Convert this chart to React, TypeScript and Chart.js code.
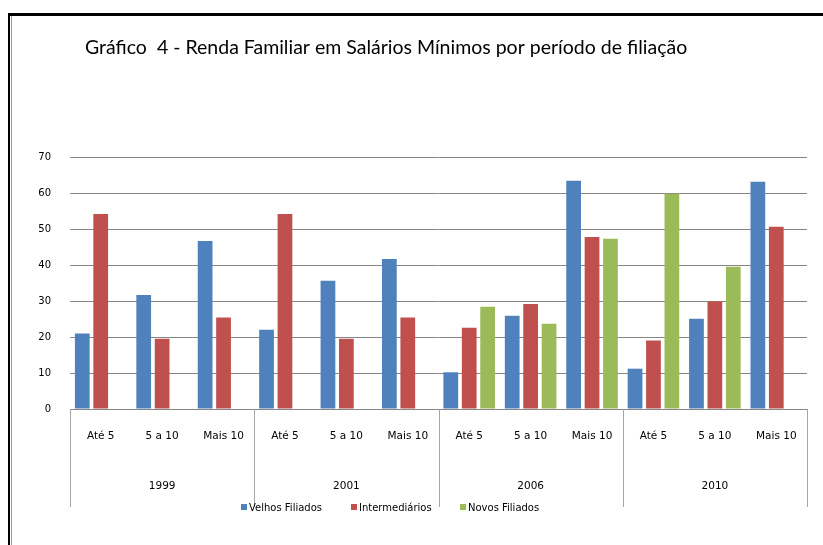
import React, { useEffect, useRef } from "react";
import { Chart, registerables } from "chart.js";

Chart.register(...registerables);

const TITLE = "Gráfico  4 - Renda Familiar em Salários Mínimos por período de filiação";
const YEARS = ["1999", "2001", "2006", "2010"];
const SUB_LABELS = ["Até 5", "5 a 10", "Mais 10"];
const SERIES_NAMES = ["Velhos Filiados", "Intermediários", "Novos Filiados"];
const SERIES_COLORS = ["#4F81BD", "#C0504D", "#9BBB59"];
const VELHOS = [21, 31.7, 46.7, 22, 35.6, 41.7, 10.2, 25.9, 63.4, 11.2, 25.1, 63.1];
const INTERMEDIARIOS = [54.2, 19.5, 25.4, 54.2, 19.5, 25.4, 22.6, 29.2, 47.8, 19.0, 29.9, 50.6];
const NOVOS = [null, null, null, null, null, null, 28.4, 23.7, 47.3, 59.8, 39.5, null];
const Y_MIN = 0;
const Y_MAX = 70;
const Y_STEP = 10;

const W = 823;
const H = 545;

const extrasPlugin = {
  id: "extras",
  afterDraw(chart: any) {
    const ctx = chart.ctx;
    const xs = chart.scales.x;
    const area = chart.chartArea;
    const n = xs.getLabels().length;
    const cw = (xs.right - xs.left) / n;
    const per = SUB_LABELS.length;
    ctx.save();
    // title
    ctx.fillStyle = "#000";
    ctx.font = "19.5px Lato";
    ctx.textAlign = "left";
    ctx.textBaseline = "alphabetic";
    ctx.fillText(TITLE, 85, 54);

    // group separators
    ctx.strokeStyle = "#a6a6a6";
    ctx.lineWidth = 1;
    const bottom = area.bottom + 98;
    for (let g = 0; g <= YEARS.length; g++) {
      const x = Math.round(xs.left + g * per * cw) + 0.5;
      ctx.beginPath();
      ctx.moveTo(x, area.bottom);
      ctx.lineTo(x, bottom);
      ctx.stroke();
    }
    // group labels
    ctx.fillStyle = "#000";
    ctx.font = "10.5px 'DejaVu Sans'";
    ctx.textAlign = "center";
    ctx.textBaseline = "middle";
    YEARS.forEach((y, g) => {
      const x = xs.left + (g * per + per / 2) * cw;
      ctx.fillText(y, x, area.bottom + 77);
    });
    // legend
    const legendX = [241, 351, 460];
    ctx.font = "10px 'DejaVu Sans'";
    ctx.textAlign = "left";
    SERIES_NAMES.forEach((name, i) => {
      ctx.fillStyle = SERIES_COLORS[i];
      ctx.fillRect(legendX[i], area.bottom + 95, 6, 6);
      ctx.fillStyle = "#000";
      ctx.fillText(name, legendX[i] + 8, area.bottom + 99);
    });
    ctx.restore();
  },
};

export default function App() {
  const ref = useRef<HTMLCanvasElement>(null);
  useEffect(() => {
    if (!ref.current) return;
    const labels = YEARS.flatMap(() => SUB_LABELS);
    const chart = new Chart(ref.current, {
      type: "bar",
      data: {
        labels,
        datasets: [VELHOS, INTERMEDIARIOS, NOVOS].map((d, i) => ({
          label: SERIES_NAMES[i],
          data: d as any,
          backgroundColor: SERIES_COLORS[i],
          borderWidth: 0,
          categoryPercentage: 0.9,
          barPercentage: 0.8,
        })),
      },
      options: {
        responsive: false,
        animation: false,
        devicePixelRatio: 1,
        layout: { padding: { left: 0, right: 16, top: 157, bottom: 0 } },
        plugins: { legend: { display: false }, tooltip: { enabled: false }, title: { display: false } },
        scales: {
          x: {
            grid: { display: false, drawTicks: false },
            border: { display: true, color: "#868686", width: 1 },
            ticks: {
              color: "#000",
              font: { family: "'DejaVu Sans'", size: 10.5 },
              padding: 21,
              maxRotation: 0,
              autoSkip: false,
            },
            afterFit(scale: any) {
              scale.height = 136;
            },
          },
          y: {
            min: Y_MIN,
            max: Y_MAX,
            grid: { color: "#868686", drawTicks: false, lineWidth: 1 },
            border: { display: false },
            ticks: {
              stepSize: Y_STEP,
              color: "#000",
              font: { family: "'DejaVu Sans'", size: 10 },
              padding: 19,
            },
            afterFit(scale: any) {
              scale.width = 70;
            },
          },
        },
      },
      plugins: [extrasPlugin],
    });
    return () => chart.destroy();
  }, []);
  return (
    <div style={{ position: "absolute", left: 0, top: 0, width: W, height: H, background: "#fff" }}>
      <canvas ref={ref} width={W} height={H} style={{ position: "absolute", left: 0, top: 0 }} />
      <div style={{ position: "absolute", left: 8, top: 13, width: W - 8, height: 3, background: "#000" }} />
      <div style={{ position: "absolute", left: 8, top: 13, width: 2, height: H - 13, background: "#000" }} />
      <div style={{ position: "absolute", left: 11, top: 16, width: 1, height: H - 16, background: "#9a9a9a" }} />
    </div>
  );
}
